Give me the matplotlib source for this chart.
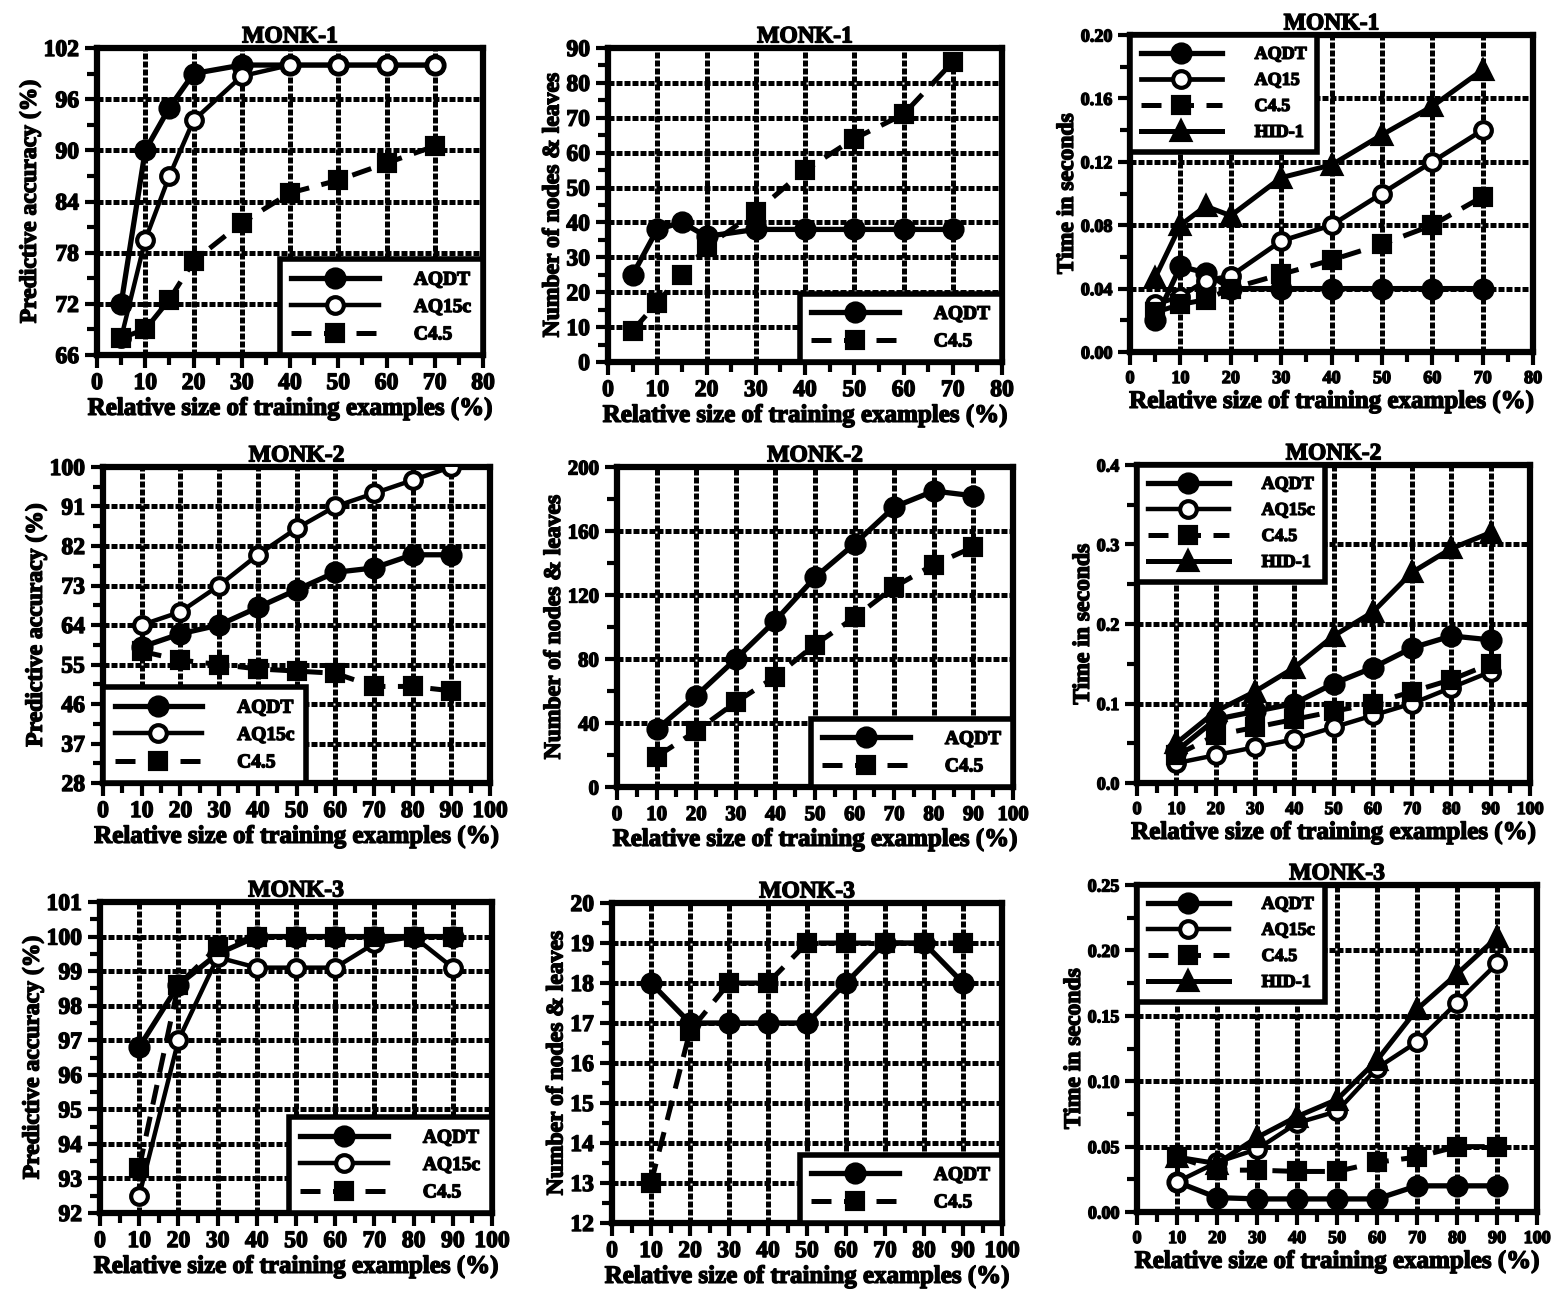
import matplotlib
matplotlib.use("Agg")
import matplotlib.pyplot as plt
import matplotlib.patheffects as pe
import numpy as np
from matplotlib.ticker import FixedLocator

plt.rcParams["font.family"] = ["Liberation Serif", "DejaVu Serif"]
plt.rcParams["font.weight"] = "bold"

# --- data ---
x1 = [5, 10, 15, 20, 30, 40, 50, 60, 70]
x2 = [10, 20, 30, 40, 50, 60, 70, 80, 90]

m1_acc_aqdt = [72, 90, 95, 99, 100, 100, 100, 100, 100]
m1_acc_aq15c = [68, 79.5, 87, 93.5, 98.7, 100, 100, 100, 100]
m1_acc_c45 = [68, 69, 72.5, 77, 81.5, 85, 86.5, 88.5, 90.5]

m1_nodes_aqdt = [25, 38, 40, 36, 38, 38, 38, 38, 38]
m1_nodes_c45 = [9, 17, 25, 33, 43, 55, 64, 71, 86]

m1_t_aqdt = [0.02, 0.054, 0.05, 0.04, 0.04, 0.04, 0.04, 0.04, 0.04]
m1_t_aq15 = [0.03, 0.035, 0.045, 0.048, 0.07, 0.08, 0.10, 0.12, 0.14]
m1_t_c45 = [0.025, 0.03, 0.033, 0.04, 0.049, 0.058, 0.068, 0.08, 0.098]
m1_t_hid = [0.047, 0.08, 0.092, 0.086, 0.11, 0.118, 0.137, 0.155, 0.178]

m2_acc_aqdt = [59, 62, 64, 68, 72, 76, 77, 80, 80]
m2_acc_aq15c = [64, 67, 73, 80, 86, 91, 94, 97, 100]
m2_acc_c45 = [58, 56, 55, 54, 53.5, 53, 50, 50, 49]

m2_nodes_aqdt = [36, 57, 80, 104, 131, 152, 175, 185, 182]
m2_nodes_c45 = [19, 35, 53, 69, 89, 106, 125, 139, 150]

m2_t_aqdt = [0.04, 0.08, 0.09, 0.10, 0.125, 0.145, 0.17, 0.185, 0.18]
m2_t_aq15c = [0.025, 0.035, 0.045, 0.055, 0.07, 0.085, 0.10, 0.12, 0.14]
m2_t_c45 = [0.035, 0.06, 0.07, 0.08, 0.09, 0.10, 0.115, 0.13, 0.15]
m2_t_hid = [0.05, 0.09, 0.115, 0.145, 0.185, 0.215, 0.265, 0.295, 0.315]

m3_acc_aqdt = [96.8, 98.6, 99.5, 100, 100, 100, 100, 100, 100]
m3_acc_aq15c = [92.5, 97, 99.4, 99.1, 99.1, 99.1, 99.8, 100, 99.1]
m3_acc_c45 = [93.3, 98.6, 99.7, 100, 100, 100, 100, 100, 100]

m3_nodes_aqdt = [18, 17, 17, 17, 17, 18, 19, 19, 18]
m3_nodes_c45 = [13, 16.8, 18, 18, 19, 19, 19, 19, 19]

m3_t_aqdt = [0.023, 0.011, 0.01, 0.01, 0.01, 0.01, 0.02, 0.02, 0.02]
m3_t_aq15c = [0.023, 0.038, 0.048, 0.068, 0.077, 0.11, 0.13, 0.16, 0.19]
m3_t_c45 = [0.042, 0.032, 0.032, 0.031, 0.031, 0.038, 0.042, 0.05, 0.05]
m3_t_hid = [0.042, 0.037, 0.057, 0.073, 0.086, 0.116, 0.155, 0.182, 0.21]

XLABEL = "Relative size of training examples (%)"
FW, FH = 1551, 1292

STYLE = {
    "AQDT": dict(ls="-", marker="o", mfc="black", ms=13, lw=3.8),
    "AQ15c": dict(ls="-", marker="o", mfc="white", ms=12, lw=3.2),
    "AQ15": dict(ls="-", marker="o", mfc="white", ms=12, lw=3.4),
    "C4.5": dict(ls=(0, (4, 2.5)), marker="s", mfc="black", ms=12, lw=3.6),
    "HID-1": dict(ls="-", marker="^", mfc="black", ms=13, lw=3.6),
}

fx = [pe.withStroke(linewidth=1.0, foreground="black")]

fig = plt.figure(figsize=(FW / 100, FH / 100), dpi=100)


def panel(box, title, x, series, xlim, xmaj, ylim, ymaj, ylabel, yfmt, legloc, legfs, tickfs):
    l, r, t, b = box
    ax = fig.add_axes([l / FW, 1 - b / FH, (r - l) / FW, (b - t) / FH])
    for name, ys in series:
        st = STYLE[name]
        ax.plot(x, ys, color="black", ls=st["ls"], lw=st["lw"], marker=st["marker"],
                ms=st["ms"], mfc=st["mfc"], mec="black", mew=3, label=name, zorder=3)
    ax.set_xlim(*xlim)
    ax.set_ylim(*ylim)
    xt = np.arange(xlim[0], xlim[1] + xmaj / 10, xmaj)
    yt = np.arange(ylim[0], ylim[1] + ymaj / 10, ymaj)
    ax.xaxis.set_major_locator(FixedLocator(xt))
    ax.xaxis.set_minor_locator(FixedLocator(xt[:-1] + xmaj / 2))
    ax.yaxis.set_major_locator(FixedLocator(yt))
    ax.yaxis.set_minor_locator(FixedLocator(yt[:-1] + ymaj / 2))
    ax.yaxis.set_major_formatter(yfmt)
    ax.grid(True, which="major", color="black", lw=3.6, ls=(0, (1.2, 0.4)))
    ax.set_axisbelow(True)
    for s in ax.spines.values():
        s.set_linewidth(4.5)
    ax.tick_params(which="both", direction="out", width=3, length=9, pad=4)
    ax.tick_params(which="minor", length=7)
    for lab in ax.get_xticklabels() + ax.get_yticklabels():
        lab.set_fontsize(tickfs)
        lab.set_fontweight("bold")
        lab.set_path_effects(fx)
    ax.set_title(title, fontsize=17, fontweight="bold", pad=4, path_effects=fx)
    ax.set_xlabel(XLABEL, fontsize=18, fontweight="bold", labelpad=2, path_effects=fx)
    ax.set_ylabel(ylabel, fontsize=17, fontweight="bold", labelpad=2, path_effects=fx)
    leg = ax.legend(loc=legloc, fontsize=legfs, handlelength=4.5, borderaxespad=0,
                    frameon=True, fancybox=False, framealpha=1, edgecolor="black",
                    markerfirst=True, handletextpad=1.8, borderpad=0.6, labelspacing=0.5)
    leg.get_frame().set_linewidth(4)
    for txt in leg.get_texts():
        txt.set_path_effects(fx)
    return ax


f0 = "{x:.0f}"
f2 = "{x:.2f}"
f1 = "{x:.1f}"

panel((97, 483, 48, 355), "MONK-1", x1,
      [("AQDT", m1_acc_aqdt), ("AQ15c", m1_acc_aq15c), ("C4.5", m1_acc_c45)],
      (0, 80), 10, (66, 102), 6, "Predictive accuracy (%)", f0, "lower right", 14, 17)
panel((608, 1002, 48, 362), "MONK-1", x1,
      [("AQDT", m1_nodes_aqdt), ("C4.5", m1_nodes_c45)],
      (0, 80), 10, (0, 90), 10, "Number of nodes & leaves", f0, "lower right", 14, 17)
panel((1130, 1533, 35, 352), "MONK-1", x1,
      [("AQDT", m1_t_aqdt), ("AQ15", m1_t_aq15), ("C4.5", m1_t_c45), ("HID-1", m1_t_hid)],
      (0, 80), 10, (0, 0.20), 0.04, "Time in seconds", f2, "upper left", 13, 13)

panel((103, 490, 467, 783), "MONK-2", x2,
      [("AQDT", m2_acc_aqdt), ("AQ15c", m2_acc_aq15c), ("C4.5", m2_acc_c45)],
      (0, 100), 10, (28, 100), 9, "Predictive accuracy (%)", f0, "lower left", 14, 17)
panel((617, 1013, 467, 787), "MONK-2", x2,
      [("AQDT", m2_nodes_aqdt), ("C4.5", m2_nodes_c45)],
      (0, 100), 10, (0, 200), 40, "Number of nodes & leaves", f0, "lower right", 14, 15)
panel((1137, 1530, 465, 783), "MONK-2", x2,
      [("AQDT", m2_t_aqdt), ("AQ15c", m2_t_aq15c), ("C4.5", m2_t_c45), ("HID-1", m2_t_hid)],
      (0, 100), 10, (0, 0.4), 0.1, "Time in seconds", f1, "upper left", 13, 13)

panel((100, 492, 902, 1213), "MONK-3", x2,
      [("AQDT", m3_acc_aqdt), ("AQ15c", m3_acc_aq15c), ("C4.5", m3_acc_c45)],
      (0, 100), 10, (92, 101), 1, "Predictive accuracy (%)", f0, "lower right", 14, 17)
panel((612, 1002, 903, 1223), "MONK-3", x2,
      [("AQDT", m3_nodes_aqdt), ("C4.5", m3_nodes_c45)],
      (0, 100), 10, (12, 20), 1, "Number of nodes & leaves", f0, "lower right", 14, 17)
panel((1137, 1537, 885, 1212), "MONK-3", x2,
      [("AQDT", m3_t_aqdt), ("AQ15c", m3_t_aq15c), ("C4.5", m3_t_c45), ("HID-1", m3_t_hid)],
      (0, 100), 10, (0, 0.25), 0.05, "Time in seconds", f2, "upper left", 13, 13)

fig.savefig("out.png", dpi=100, facecolor="white")
